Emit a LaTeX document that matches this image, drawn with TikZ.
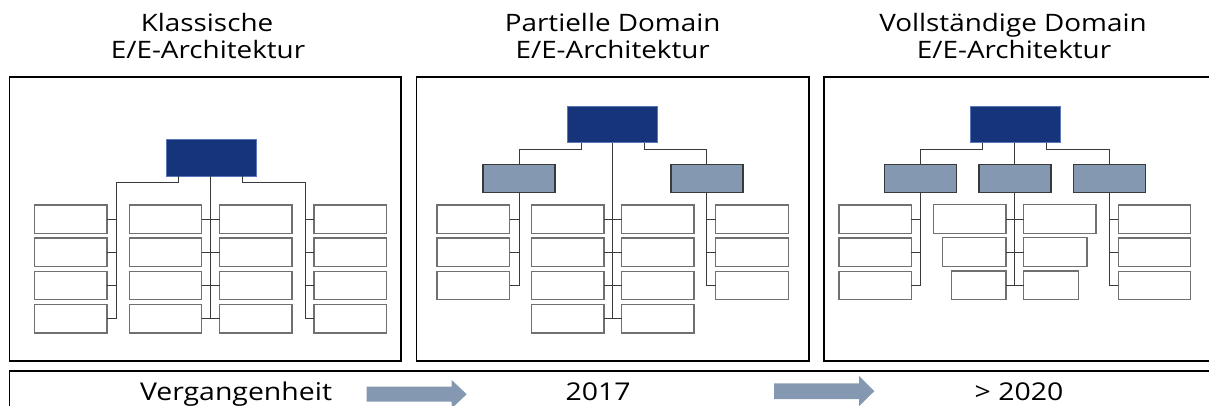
\documentclass[tikz,border=0pt]{standalone}
\usepackage{fontspec}
\setmainfont{Open Sans}[FakeStretch=1.16]
\definecolor{navy}{HTML}{16347A}
\definecolor{navyedge}{HTML}{5A78B8}
\definecolor{steel}{HTML}{8499B1}
\definecolor{leafedge}{HTML}{707070}
\definecolor{wirecol}{HTML}{3A3A3A}
\tikzset{
  frame/.style={draw=black, line width=1.8pt},
  boxbase/.style={rectangle, inner sep=0pt, outer sep=0pt},
  topbox/.style={boxbase, fill=navy, draw=navyedge, line width=0.8pt, minimum width=90pt, minimum height=36.7pt},
  midbox/.style={boxbase, fill=steel, draw=wirecol, line width=1.2pt, minimum width=72pt, minimum height=28.4pt},
  leaf/.style={boxbase, fill=white, draw=leafedge, line width=1.3pt, minimum width=72.4pt, minimum height=28.4pt},
  wire/.style={draw=wirecol, line width=1pt},
  title/.style={anchor=base, inner sep=0pt, font=\fontsize{24}{27}\selectfont},
  tag/.style={anchor=base, inner sep=0pt, font=\fontsize{24.5}{28}\selectfont},
  flow/.style={fill=steel}
}
\begin{document}
\begin{tikzpicture}[x=1pt, y=-1pt]
\useasboundingbox (0,0) rectangle (1209,406);

% ---------- headings ----------
\node[title] (h1a) at (207,32) {Klassische};
\node[title] (h1b) at (208,59) {E/E-Architektur};
\node[title] (h2a) at (612.7,32) {Partielle Domain};
\node[title] (h2b) at (612.7,59) {E/E-Architektur};
\node[title] (h3a) at (1013,32) {Vollständige Domain};
\node[title] (h3b) at (1014,59) {E/E-Architektur};

% ---------- frames ----------
\draw[frame] (9.5,77) rectangle (401,361);
\draw[frame] (416.5,77) rectangle (809,361);
\draw[frame] (824,77) rectangle (1216,361);
\draw[frame] (9.5,371) rectangle (1222,420);

% ---------- timeline ----------
\node[tag] (y1) at (236,400) {Vergangenheit};
\node[tag] (y2) at (598,400) {2017};
\node[tag] (y3) at (1019,400) {> 2020};
\fill[flow] (366.7,386.7) -- (451.7,386.7) -- (451.7,380) -- (466.7,394.2)
  -- (451.7,408.4) -- (451.7,401.7) -- (366.7,401.7) -- cycle;
\fill[flow] (774,383.3) -- (859,383.3) -- (859,376) -- (874.3,391.2)
  -- (859,406.4) -- (859,399) -- (774,399) -- cycle;

% ---------- classic architecture ----------
\node[topbox] (t1) at (210.9,157.6) {};
\foreach \r/\y in {1/219.2,2/252.3,3/285.5,4/318.7}{
  \node[leaf] (a1r\r) at (70.8,\y) {};
  \node[leaf] (a2r\r) at (165.5,\y) {};
  \node[leaf] (a3r\r) at (255.7,\y) {};
  \node[leaf] (a4r\r) at (350.3,\y) {};
}
\coordinate (k1L) at (116.3,318.7);
\coordinate (k1R) at (305.3,318.7);
\draw[wire] (t1.south) -- (t1.south |- a2r4.east);
\draw[wire] ([xshift=-32.5pt]t1.south) -- ++(0,6.7) -| (k1L);
\draw[wire] ([xshift=31.2pt]t1.south) -- ++(0,6.7) -| (k1R);
\foreach \r in {1,2,3,4}{
  \draw[wire] (a1r\r.east) -- (a1r\r.east -| k1L);
  \draw[wire] (a2r\r.east) -- (a3r\r.west);
  \draw[wire] (a4r\r.west) -- (a4r\r.west -| k1R);
}

% ---------- partial domain architecture ----------
\node[topbox] (t2) at (612.7,124.3) {};
\node[midbox] (m2L) at (519,178.5) {};
\node[midbox] (m2R) at (706.9,178.5) {};
\foreach \r/\y in {1/219.2,2/252.3,3/285.5}{
  \node[leaf] (p1r\r) at (473.3,\y) {};
  \node[leaf] (p4r\r) at (752,\y) {};
}
\foreach \r/\y in {1/219.2,2/252.3,3/285.5,4/318.7}{
  \node[leaf] (p2r\r) at (567.7,\y) {};
  \node[leaf] (p3r\r) at (657.7,\y) {};
}
\draw[wire] (t2.south) -- (t2.south |- p2r4.east);
\draw[wire] ([xshift=-31.7pt]t2.south) -- ++(0,6.6) -| (m2L.north);
\draw[wire] ([xshift=31.7pt]t2.south) -- ++(0,6.6) -| (m2R.north);
\draw[wire] (m2L.south) -- (m2L.south |- p1r3.east);
\draw[wire] (m2R.south) -- (m2R.south |- p4r3.west);
\foreach \r in {1,2,3}{
  \draw[wire] (p1r\r.east) -- (p1r\r.east -| m2L.south);
  \draw[wire] (p4r\r.west) -- (p4r\r.west -| m2R.south);
}
\foreach \r in {1,2,3,4}{
  \draw[wire] (p2r\r.east) -- (p3r\r.west);
}

% ---------- full domain architecture ----------
\node[topbox] (t3) at (1014.9,124.3) {};
\node[midbox] (m3L) at (920.8,178.5) {};
\node[midbox] (m3C) at (1014.9,178.5) {};
\node[midbox] (m3R) at (1109.5,178.5) {};
\foreach \r/\y in {1/219.2,2/252.3,3/285.5}{
  \node[leaf] (q1r\r) at (875.2,\y) {};
  \node[leaf] (q4r\r) at (1154.5,\y) {};
}
\node[leaf, anchor=east] (q2r1) at (1006,219) {};
\node[leaf, anchor=east, minimum width=63.3pt] (q2r2) at (1006,252) {};
\node[leaf, anchor=east, minimum width=54.3pt] (q2r3) at (1006,285.2) {};
\node[leaf, anchor=west] (q3r1) at (1023.7,219) {};
\node[leaf, anchor=west, minimum width=63.3pt] (q3r2) at (1023.7,252) {};
\node[leaf, anchor=west, minimum width=54.6pt] (q3r3) at (1023.7,285.2) {};
\draw[wire] (t3.south) -- (m3C.north);
\draw[wire] ([xshift=-32.2pt]t3.south) -- ++(0,6.6) -| (m3L.north);
\draw[wire] ([xshift=31.1pt]t3.south) -- ++(0,6.6) -| (m3R.north);
\draw[wire] (m3C.south) -- (m3C.south |- q2r3.east);
\draw[wire] (m3L.south) -- (m3L.south |- q1r3.east);
\draw[wire] (m3R.south) -- (m3R.south |- q4r3.west);
\foreach \r in {1,2,3}{
  \draw[wire] (q1r\r.east) -- (q1r\r.east -| m3L.south);
  \draw[wire] (q2r\r.east) -- (q3r\r.west);
  \draw[wire] (q4r\r.west) -- (q4r\r.west -| m3R.south);
}
\end{tikzpicture}
\end{document}
